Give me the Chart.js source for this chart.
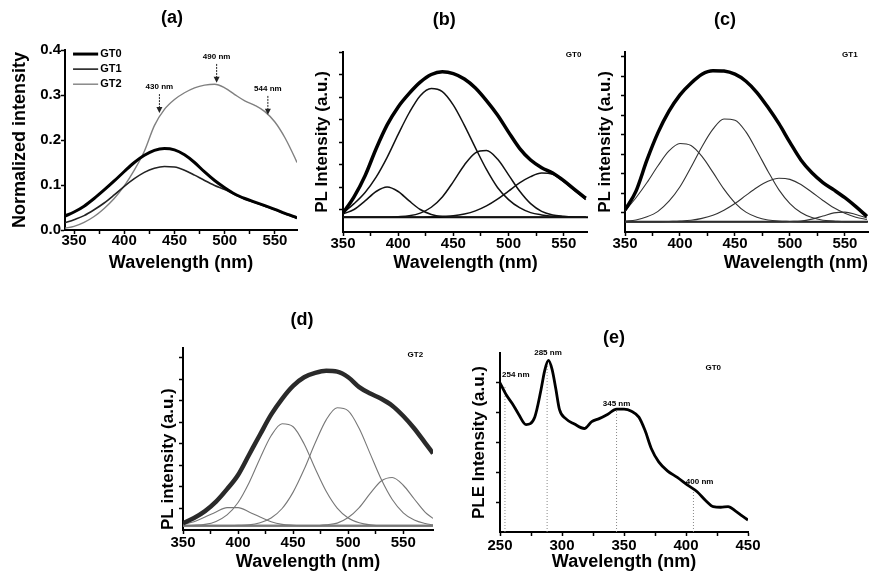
<!DOCTYPE html>
<html>
<head>
<meta charset="utf-8">
<title>PL and PLE spectra of GT glasses</title>
<script src="https://cdn.jsdelivr.net/npm/chart.js@4/dist/chart.umd.min.js"></script>
<style>
  html, body { margin: 0; background: #fff; }
  #page { position: relative; width: 869px; height: 576px; overflow: hidden; background: #fff; }
  #page canvas { position: absolute; }
</style>
</head>
<body>
<div id="page">
  <canvas id="chartA"></canvas>
  <canvas id="chartB"></canvas>
  <canvas id="chartC"></canvas>
  <canvas id="chartD"></canvas>
  <canvas id="chartE"></canvas>
</div>
<script>
Chart.defaults.font.family = '"Liberation Sans", Arial, sans-serif'
Chart.defaults.font.weight = 'bold'
Chart.defaults.color = '#000'

// (a) normalized PL of the three glasses
const wlA = [341, 350, 360, 370, 380, 390, 400, 410, 420, 430, 440, 450, 460, 470, 480, 490, 500, 510, 520, 530, 540, 550, 560, 570, 572]
const gt0 = [0.031, 0.040, 0.053, 0.070, 0.089, 0.109, 0.130, 0.150, 0.166, 0.177, 0.181, 0.178, 0.167, 0.150, 0.129, 0.110, 0.094, 0.080, 0.070, 0.062, 0.054, 0.046, 0.037, 0.029, 0.027]
const gt1 = [0.016, 0.023, 0.032, 0.045, 0.060, 0.078, 0.097, 0.114, 0.128, 0.137, 0.141, 0.140, 0.133, 0.122, 0.110, 0.099, 0.090, 0.079, 0.069, 0.061, 0.053, 0.045, 0.036, 0.028, 0.026]
const gt2 = [0.004, 0.008, 0.017, 0.030, 0.048, 0.070, 0.098, 0.133, 0.175, 0.232, 0.268, 0.290, 0.305, 0.316, 0.322, 0.324, 0.316, 0.301, 0.287, 0.277, 0.263, 0.240, 0.205, 0.160, 0.150]
const peakA = [435, 492, 543]
const peakTipA = [0.26, 0.327, 0.256]
const peakTextA = ['430 nm', '490 nm', '544 nm']

// (b) GT0 fit, (c) GT1 fit
const wlPL = [350, 360, 370, 380, 390, 400, 410, 420, 430, 440, 450, 460, 470, 480, 490, 500, 510, 520, 530, 540, 550, 560, 570]
const gt0Fit = [0.42, 0.78, 1.25, 1.85, 2.38, 2.78, 3.08, 3.33, 3.50, 3.56, 3.52, 3.40, 3.20, 2.92, 2.60, 2.22, 1.86, 1.60, 1.43, 1.31, 1.14, 0.94, 0.75]
const gt0Band1 = [0.40, 0.50, 0.69, 0.90, 1.00, 0.90, 0.69, 0.50, 0.39, 0.34, 0.33, 0.33, 0.33, 0.33, 0.33, 0.33, 0.33, 0.33, 0.33, 0.33, 0.33, 0.33, 0.33]
const gt0Band2 = [0.42, 0.63, 0.88, 1.22, 1.66, 2.17, 2.65, 3.03, 3.19, 3.12, 2.82, 2.37, 1.87, 1.39, 0.99, 0.72, 0.54, 0.43, 0.38, 0.35, 0.34, 0.33, 0.33]
const gt0Band3 = [0.33, 0.33, 0.33, 0.33, 0.33, 0.34, 0.36, 0.42, 0.55, 0.78, 1.12, 1.49, 1.76, 1.81, 1.62, 1.27, 0.91, 0.63, 0.46, 0.38, 0.35, 0.33, 0.33]
const gt0Band4 = [0.33, 0.33, 0.33, 0.33, 0.33, 0.33, 0.33, 0.33, 0.34, 0.35, 0.36, 0.40, 0.47, 0.58, 0.73, 0.91, 1.09, 1.23, 1.31, 1.28, 1.12, 0.92, 0.72]
const baseB = 0.33

const gt1Fit = [0.56, 1.05, 1.85, 2.55, 3.10, 3.52, 3.82, 4.05, 4.14, 4.13, 4.05, 3.87, 3.58, 3.20, 2.78, 2.30, 1.85, 1.52, 1.27, 1.08, 0.88, 0.65, 0.40]
const gt1Band1 = [0.54, 0.88, 1.27, 1.70, 2.08, 2.27, 2.22, 1.94, 1.53, 1.10, 0.75, 0.51, 0.38, 0.31, 0.28, 0.27, 0.26, 0.26, 0.26, 0.26, 0.26, 0.26, 0.26]
const gt1Band2 = [0.28, 0.31, 0.39, 0.53, 0.79, 1.16, 1.66, 2.19, 2.64, 2.90, 2.87, 2.57, 2.08, 1.56, 1.08, 0.73, 0.50, 0.37, 0.30, 0.28, 0.26, 0.26, 0.26]
const gt1Band3 = [0.26, 0.26, 0.26, 0.26, 0.27, 0.28, 0.30, 0.35, 0.43, 0.56, 0.73, 0.94, 1.14, 1.30, 1.38, 1.35, 1.22, 1.02, 0.81, 0.62, 0.48, 0.38, 0.32]
const gt1Band4 = [0.26, 0.26, 0.26, 0.26, 0.26, 0.26, 0.26, 0.26, 0.26, 0.26, 0.26, 0.26, 0.26, 0.26, 0.26, 0.27, 0.28, 0.33, 0.41, 0.49, 0.51, 0.45, 0.36]
const baseC = 0.26

// (d) GT2 fit
const wlD = [350, 360, 370, 380, 390, 400, 410, 420, 430, 440, 450, 460, 470, 480, 490, 500, 510, 520, 530, 540, 550, 560, 570, 577]
const gt2Fit = [0.16, 0.28, 0.44, 0.66, 0.95, 1.28, 1.75, 2.22, 2.68, 3.05, 3.35, 3.55, 3.65, 3.70, 3.68, 3.55, 3.32, 3.17, 3.05, 2.89, 2.65, 2.36, 2.02, 1.78]
const gt2Band1 = [0.13, 0.19, 0.30, 0.42, 0.52, 0.52, 0.42, 0.30, 0.19, 0.13, 0.11, 0.10, 0.10, 0.10, 0.10, 0.10, 0.10, 0.10, 0.10, 0.10, 0.10, 0.10, 0.10, 0.10]
const gt2Band2 = [0.10, 0.11, 0.13, 0.20, 0.35, 0.64, 1.10, 1.67, 2.19, 2.47, 2.40, 2.00, 1.43, 0.90, 0.51, 0.28, 0.17, 0.12, 0.10, 0.10, 0.10, 0.10, 0.10, 0.10]
const gt2Band3 = [0.10, 0.10, 0.10, 0.10, 0.10, 0.11, 0.12, 0.17, 0.28, 0.50, 0.88, 1.41, 2.02, 2.56, 2.84, 2.77, 2.36, 1.77, 1.18, 0.71, 0.40, 0.23, 0.15, 0.12]
const gt2Band4 = [0.10, 0.10, 0.10, 0.10, 0.10, 0.10, 0.10, 0.10, 0.10, 0.10, 0.10, 0.10, 0.10, 0.12, 0.16, 0.29, 0.52, 0.85, 1.14, 1.22, 1.04, 0.72, 0.41, 0.27]
const baseD = 0.10

// (e) PLE of GT0
const wlE = [250, 255, 260, 265, 271, 278, 283, 286, 289, 292, 295, 298, 303, 310, 318, 324, 330, 337, 344, 350, 356, 362, 367, 372, 378, 385, 393, 401, 409, 416, 422, 428, 434, 440, 445, 450]
const ple = [5.0, 4.6, 4.3, 3.95, 3.6, 3.85, 4.75, 5.4, 5.75, 5.45, 4.8, 4.1, 3.8, 3.62, 3.47, 3.7, 3.8, 3.95, 4.12, 4.12, 4.05, 3.85, 3.4, 2.8, 2.35, 2.05, 1.83, 1.58, 1.35, 1.05, 0.85, 0.83, 0.85, 0.7, 0.55, 0.4]
const peakE = [254, 288, 344, 406]
const peakTopE = [4.9, 5.7, 4.1, 1.45]
const peakTextE = ['254 nm', '285 nm', '345 nm', '400 nm']

const xTicksPL = [350, 375, 400, 425, 450, 475, 500, 525, 550]
const xTicksE = [250, 275, 300, 325, 350, 375, 400, 425, 450]
const yTicksA = [0, 0.1, 0.2, 0.3, 0.4]
const yTicksB = [0.5, 1, 1.5, 2, 2.5, 3, 3.5, 4]
const yTicksC = [0.5, 1, 1.5, 2, 2.5, 3, 3.5, 4, 4.5]
const yTicksD = [0.5, 1, 1.5, 2, 2.5, 3, 3.5, 4]
const yTicksE = [1, 2, 3, 4, 5]

function series(xs, ys, color, width, label) {
  return {
    label: label,
    data: xs.map((x, i) => ({ x: x, y: ys[i] })),
    borderColor: color,
    borderWidth: width,
    pointRadius: 0,
    cubicInterpolationMode: 'monotone',
    fill: false
  }
}

function straight(xs, ys, color, width, dash) {
  const d = series(xs, ys, color, width)
  d.cubicInterpolationMode = 'default'
  d.tension = 0
  d.borderDash = dash || []
  return d
}

function xAxis(min, max, ticks, o) {
  return {
    type: 'linear',
    min: min,
    max: max,
    afterBuildTicks: s => { s.ticks = ticks.map(v => ({ value: v })) },
    afterFit: s => { s.height = o.h; s.paddingLeft = 0; s.paddingRight = 0 },
    border: { color: '#000', width: 2 },
    grid: { drawOnChartArea: false, color: '#000', tickLength: 4, tickWidth: 1.5 },
    ticks: {
      autoSkip: false,
      maxRotation: 0,
      padding: o.pad,
      font: { size: 15 },
      callback: v => (v % 50 === 0 ? String(v) : '')
    },
    title: {
      display: true,
      text: 'Wavelength (nm)',
      align: o.align || 'center',
      font: { size: 18 },
      padding: { top: 0, bottom: o.titlePad }
    }
  }
}

function yAxis(min, max, ticks, o) {
  return {
    type: 'linear',
    min: min,
    max: max,
    afterBuildTicks: s => { s.ticks = ticks.map(v => ({ value: v })) },
    afterFit: s => { s.width = o.w; s.paddingTop = 0; s.paddingBottom = 0 },
    border: { color: '#000', width: 2 },
    grid: { drawOnChartArea: false, color: '#000', tickLength: 4, tickWidth: 1.5 },
    ticks: { display: !!o.labels, padding: 0, font: { size: 15 }, callback: v => v.toFixed(1) },
    title: {
      display: true,
      text: o.title,
      align: o.align || 'center',
      font: { size: o.size || 17 },
      padding: { top: o.titlePad, bottom: 0 }
    }
  }
}

function text(c, s, t, nm, v, size, align) {
  c.font = 'bold ' + size + 'px "Liberation Sans", Arial, sans-serif'
  c.fillStyle = '#000'
  c.textAlign = align || 'center'
  c.textBaseline = 'middle'
  c.fillText(t, s.x.getPixelForValue(nm), s.y.getPixelForValue(v))
}

function arrow(c, s, nm, from, to) {
  const px = s.x.getPixelForValue(nm)
  const y1 = s.y.getPixelForValue(from)
  const y2 = s.y.getPixelForValue(to)
  c.strokeStyle = '#222'
  c.lineWidth = 1
  c.setLineDash([2, 1])
  c.beginPath()
  c.moveTo(px, y1)
  c.lineTo(px, y2 - 5)
  c.stroke()
  c.setLineDash([])
  c.fillStyle = '#222'
  c.beginPath()
  c.moveTo(px - 3, y2 - 6)
  c.lineTo(px + 3, y2 - 6)
  c.lineTo(px, y2)
  c.closePath()
  c.fill()
}

function build(id, box, pad, datasets, xs, ys, draw) {
  const cv = document.getElementById(id)
  cv.width = box[2]
  cv.height = box[3]
  cv.style.left = box[0] + 'px'
  cv.style.top = box[1] + 'px'
  return new Chart(cv, {
    type: 'line',
    data: { datasets: datasets },
    options: {
      responsive: false,
      animation: false,
      layout: { padding: pad },
      plugins: { legend: { display: false }, tooltip: { enabled: false } },
      scales: { x: xs, y: ys }
    },
    plugins: [{
      id: 'notes',
      afterDraw: chart => {
        const c = chart.ctx
        c.save()
        draw(c, chart.scales, chart)
        c.restore()
      }
    }]
  })
}

// (a)
build('chartA', [0, 0, 302, 275], { top: 50, right: 5 },
  [
    series(wlA, gt0, '#000', 3, 'GT0'),
    series(wlA, gt1, '#222', 1.6, 'GT1'),
    series(wlA, gt2, '#808080', 1.4, 'GT2')
  ],
  xAxis(341, 572, xTicksPL, { h: 45, pad: -2, titlePad: 1 }),
  yAxis(0, 0.4, yTicksA, { w: 65, labels: true, title: 'Normalized intensity', size: 18, titlePad: 9 }),
  (c, s, chart) => {
    text(c, s, '(a)', 447.5, 0.471, 18)
    chart.data.datasets.forEach((d, i) => {
      const v = 0.391 - i * 0.0335
      const yy = s.y.getPixelForValue(v)
      c.strokeStyle = d.borderColor
      c.lineWidth = d.borderWidth
      c.beginPath()
      c.moveTo(s.x.getPixelForValue(349), yy)
      c.lineTo(s.x.getPixelForValue(374), yy)
      c.stroke()
      text(c, s, d.label, 376, v, 11, 'left')
    })
    peakA.forEach((p, i) => {
      arrow(c, s, p, peakTipA[i] + 0.042, peakTipA[i])
      text(c, s, peakTextA[i], p, peakTipA[i] + 0.058, 8)
    })
  })

// (b)
build('chartB', [300, 0, 288, 277], { top: 52 },
  [
    series(wlPL, gt0Fit, '#000', 3.5),
    series(wlPL, gt0Band1, '#111', 1.5),
    series(wlPL, gt0Band2, '#111', 1.5),
    series(wlPL, gt0Band3, '#111', 1.5),
    series(wlPL, gt0Band4, '#111', 1.5),
    straight([350, 572], [baseB, baseB], '#000', 2)
  ],
  xAxis(350, 572, xTicksPL, { h: 45, pad: -1, titlePad: 3 }),
  yAxis(0, 4, yTicksB, { w: 43, title: 'PL Intensity (a.u.)', titlePad: 12 }),
  (c, s) => {
    text(c, s, '(b)', 441.8, 4.71, 18)
    text(c, s, 'GT0', 559, 3.93, 8)
  })

// (c)
build('chartC', [580, 0, 289, 277], { top: 52, right: 1 },
  [
    series(wlPL, gt1Fit, '#000', 3.5),
    series(wlPL, gt1Band1, '#333', 1.1),
    series(wlPL, gt1Band2, '#333', 1.1),
    series(wlPL, gt1Band3, '#333', 1.1),
    series(wlPL, gt1Band4, '#333', 1.1),
    straight([350, 571], [baseC, baseC], '#222', 2)
  ],
  xAxis(350, 571, xTicksPL, { h: 45, pad: -1, titlePad: 3, align: 'end' }),
  yAxis(0, 4.62, yTicksC, { w: 45, title: 'PL intensity (a.u.)', titlePad: 15 }),
  (c, s) => {
    text(c, s, '(c)', 440.9, 5.44, 18)
    text(c, s, 'GT1', 554.5, 4.54, 8)
  })

// (d)
build('chartD', [150, 300, 288, 275], { top: 48, right: 5 },
  [
    series(wlD, gt2Fit, '#2a2a2a', 4.5),
    series(wlD, gt2Band1, '#777', 1.1),
    series(wlD, gt2Band2, '#777', 1.1),
    series(wlD, gt2Band3, '#777', 1.1),
    series(wlD, gt2Band4, '#777', 1.1),
    straight([350, 577], [baseD, baseD], '#888', 2.5)
  ],
  xAxis(350, 577, xTicksPL, { h: 45, pad: 0, titlePad: 2 }),
  yAxis(0, 4.23, yTicksD, { w: 33, title: 'PL intensity (a.u.)', titlePad: 8, align: 'start' }),
  (c, s) => {
    text(c, s, '(d)', 458, 4.88, 18)
    text(c, s, 'GT2', 561, 4.07, 8)
  })

// (e)
const dotsE = peakE.map((p, i) => straight([p, p], [0, peakTopE[i]], '#888', 1, [1, 2]))
build('chartE', [455, 300, 308, 277], { top: 53, right: 15 },
  [series(wlE, ple, '#000', 2.8)].concat(dotsE),
  xAxis(250, 450, xTicksE, { h: 45, pad: 1, titlePad: 4 }),
  yAxis(0, 6, yTicksE, { w: 45, title: 'PLE Intensity (a.u.)', titlePad: 14 }),
  (c, s) => {
    text(c, s, '(e)', 342, 6.5, 18)
    text(c, s, peakTextE[0], 251.6, 5.27, 8, 'left')
    text(c, s, peakTextE[1], 288.7, 6.0, 8)
    text(c, s, peakTextE[2], 344, 4.3, 8)
    text(c, s, peakTextE[3], 411, 1.67, 8)
    text(c, s, 'GT0', 422, 5.5, 8)
  })
</script>
</body>
</html>
